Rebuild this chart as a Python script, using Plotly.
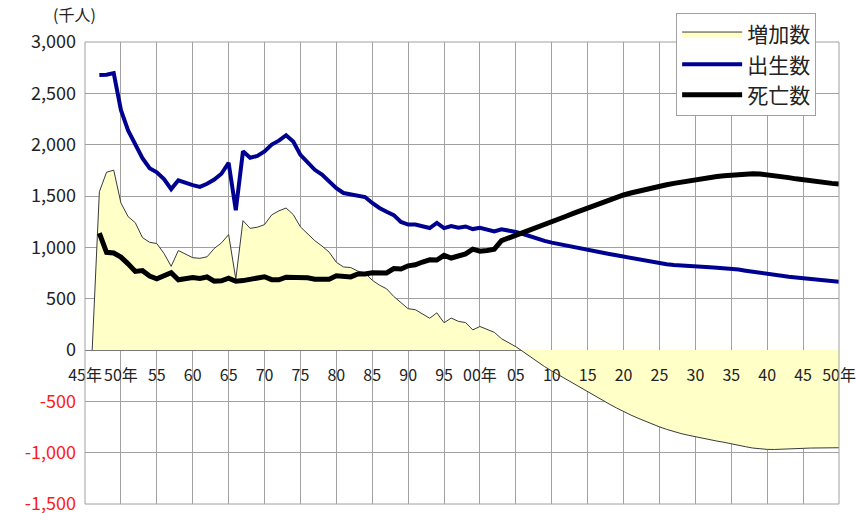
import plotly.graph_objects as go

# Japan: births, deaths and natural increase (thousand persons), 1947-2050
years = list(range(1947, 2051))

births = [
    2679, 2682, 2697, 2338, 2138, 2005, 1868, 1770, 1731, 1665,   # 1947-1956
    1567, 1653, 1626, 1606, 1589, 1619, 1660, 1717, 1824, 1361,   # 1957-1966
    1936, 1872, 1890, 1934, 2001, 2039, 2092, 2030, 1901, 1833,   # 1967-1976
    1755, 1709, 1643, 1577, 1529, 1515, 1509, 1490, 1432, 1383,   # 1977-1986
    1347, 1314, 1247, 1222, 1223, 1209, 1188, 1238, 1187, 1207,   # 1987-1996
    1192, 1203, 1178, 1191, 1171, 1154, 1175, 1165, 1150, 1130,   # 1997-2006
    1106, 1083, 1063, 1046, 1031, 1017, 1003, 989, 975, 961,      # 2007-2016
    948, 935, 922, 909, 896, 883, 870, 857, 846, 836,             # 2017-2026
    828, 822, 818, 814, 810, 806, 802, 798, 793, 783,             # 2027-2036
    772, 761, 750, 740, 731, 722, 714, 706, 698, 691,             # 2037-2046
    684, 677, 671, 665,                                           # 2047-2050
]

deaths = [
    1138, 951, 945, 905, 839, 765, 773, 721, 694, 724,            # 1947-1956
    752, 684, 690, 707, 696, 711, 671, 674, 700, 670,             # 1957-1966
    676, 687, 694, 713, 685, 684, 709, 711, 702, 703,             # 1967-1976
    690, 696, 690, 723, 720, 712, 741, 740, 752, 751,             # 1977-1986
    751, 793, 789, 820, 830, 857, 879, 876, 922, 896,             # 1987-1996
    913, 936, 982, 962, 970, 982, 1065, 1090, 1118, 1146,         # 1997-2006
    1173, 1200, 1225, 1250, 1276, 1303, 1330, 1357, 1384, 1410,   # 2007-2016
    1436, 1461, 1486, 1510, 1529, 1547, 1564, 1580, 1595, 1609,   # 2017-2026
    1623, 1636, 1648, 1660, 1670, 1680, 1689, 1697, 1704, 1710,   # 2027-2036
    1714, 1716, 1714, 1708, 1700, 1690, 1679, 1667, 1656, 1646,   # 2037-2046
    1637, 1630, 1623, 1617,                                       # 2047-2050
]

# natural increase series starts one year earlier at zero
increase_years = list(range(1946, 2051))
increase = [
    0,                                                            # 1946
    1541, 1731, 1752, 1433, 1299, 1240, 1095, 1049, 1037, 941,    # 1947-1956
    815, 969, 936, 899, 893, 908, 989, 1043, 1124, 691,           # 1957-1966
    1260, 1185, 1196, 1221, 1316, 1355, 1383, 1319, 1199, 1130,   # 1967-1976
    1065, 1013, 953, 854, 809, 803, 768, 750, 680, 632,           # 1977-1986
    596, 521, 458, 402, 393, 352, 309, 362, 265, 311,             # 1987-1996
    279, 267, 196, 229, 201, 172, 110, 75, 32, -16,               # 1997-2006
    -67, -117, -162, -204, -245, -286, -327, -368, -409, -449,    # 2007-2016
    -488, -526, -564, -601, -633, -664, -694, -723, -749, -773,   # 2017-2026
    -795, -814, -830, -846, -860, -874, -887, -899, -911, -927,   # 2027-2036
    -942, -955, -964, -968, -969, -968, -965, -961, -958, -955,   # 2037-2046
    -953, -953, -952, -952,                                       # 2047-2050
]

x_tick_vals = list(range(1945, 2051, 5))
x_tick_text = ["45年", "50年", "55", "60", "65", "70", "75", "80", "85", "90",
               "95", "00年", "05", "10", "15", "20", "25", "30", "35", "40",
               "45", "50年"]

y_tick_vals = [-1500, -1000, -500, 0, 500, 1000, 1500, 2000, 2500, 3000]
y_tick_text = ["-1,500", "-1,000", "-500", "0", "500", "1,000", "1,500",
               "2,000", "2,500", "3,000"]

FONT = "Noto Sans CJK JP"
GRID = "#a0a0a0"
TEXT = "#222222"

y_tick_labels = [
    f"<span style='color:#ff1a1a'>{t}</span>" if v < 0 else t
    for v, t in zip(y_tick_vals, y_tick_text)
]

fig = go.Figure()

fig.add_trace(go.Scatter(
    x=increase_years, y=increase, name="増加数",
    mode="lines", fill="tozeroy", fillcolor="#ffffc8",
    line=dict(color="#3a3a3a", width=1),
))
fig.add_trace(go.Scatter(
    x=years, y=births, name="出生数",
    mode="lines", line=dict(color="#000090", width=4),
))
fig.add_trace(go.Scatter(
    x=years, y=deaths, name="死亡数",
    mode="lines", line=dict(color="#000000", width=5),
))

fig.update_layout(
    width=856, height=513,
    margin=dict(l=85, r=17, t=42, b=9, autoexpand=False),
    paper_bgcolor="white", plot_bgcolor="white",
    font=dict(family=FONT, color=TEXT),
    showlegend=True,
    legend=dict(
        x=0.784, y=1.063, xanchor="left", yanchor="top",
        bgcolor="white", bordercolor=GRID, borderwidth=1,
        font=dict(family=FONT, size=21, color=TEXT),
        itemwidth=60, tracegroupgap=0,
    ),
    xaxis=dict(
        range=[1945, 2050], tickvals=x_tick_vals, ticktext=x_tick_text,
        showgrid=True, gridcolor=GRID, gridwidth=1,
        zeroline=False, showline=False, ticks="",
        anchor="free", position=1 / 3, automargin=False,
        tickfont=dict(family=FONT, size=16, color=TEXT),
        ticklabelstandoff=14, tickangle=0,
    ),
    yaxis=dict(
        range=[-1500, 3000], tickvals=y_tick_vals, ticktext=y_tick_labels,
        showgrid=True, gridcolor=GRID, gridwidth=1,
        zeroline=True, zerolinecolor="#7a7a7a", zerolinewidth=1,
        showline=False, ticks="", domain=[0, 1], automargin=False,
        tickfont=dict(family=FONT, size=18, color=TEXT),
        ticklabelstandoff=8, ticklabeloverflow="allow",
    ),
    shapes=[dict(
        type="rect", xref="paper", yref="paper", x0=0, y0=0, x1=1, y1=1,
        line=dict(color=GRID, width=1), fillcolor="rgba(0,0,0,0)",
        layer="above",
    )],
    annotations=[dict(
        text="(千人)", xref="paper", yref="paper", x=0.017, y=1.03,
        xanchor="right", yanchor="bottom", showarrow=False,
        font=dict(family=FONT, size=16, color=TEXT),
    )],
)

fig.write_html("out.html")
